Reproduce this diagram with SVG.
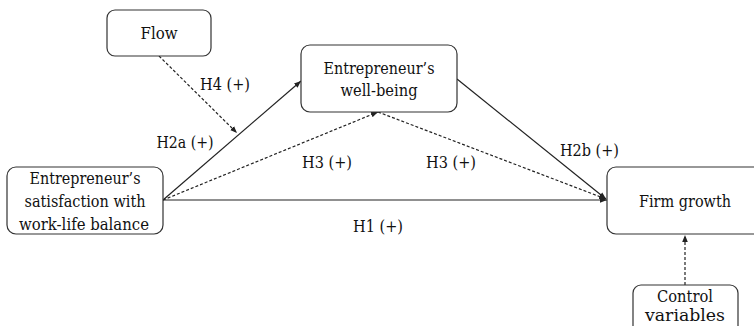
<svg xmlns="http://www.w3.org/2000/svg" width="754" height="326" viewBox="0 0 754 326">
<defs>
<marker id="arr" viewBox="0 0 10 10" refX="10" refY="5" markerWidth="7" markerHeight="7" orient="auto" markerUnits="userSpaceOnUse">
<path d="M0,1 L10,5 L0,9 z" fill="#222"/>
</marker>
<style>
.box{fill:#fff;stroke:#333;stroke-width:1.2}
.t{font-family:"DejaVu Serif",serif;font-size:16px;fill:#111;text-anchor:middle}
.solid{stroke:#222;stroke-width:1.2;fill:none}
.dash{stroke:#222;stroke-width:1.2;fill:none;stroke-dasharray:3,2}
</style>
</defs>
<rect width="754" height="326" fill="#fff"/>
<g id="connectors">
<line class="solid" x1="163" y1="200" x2="607" y2="200" marker-end="url(#arr)"/>
<line class="solid" x1="163" y1="200" x2="301" y2="81" marker-end="url(#arr)"/>
<line class="solid" x1="457" y1="79" x2="606" y2="199" marker-end="url(#arr)"/>
<line class="dash" x1="163" y1="200" x2="378" y2="112" marker-end="url(#arr)"/>
<line class="dash" x1="378" y1="112" x2="606" y2="199" marker-end="url(#arr)"/>
<line class="dash" x1="159" y1="56" x2="237" y2="133" marker-end="url(#arr)"/>
<line class="dash" x1="685" y1="285" x2="685" y2="235" marker-end="url(#arr)"/>
</g>
<g id="labels">
<text class="t" x="225" y="90" textLength="50" lengthAdjust="spacingAndGlyphs">H4 (+)</text>
<text class="t" x="185" y="148" textLength="57" lengthAdjust="spacingAndGlyphs">H2a (+)</text>
<text class="t" x="327" y="168" textLength="50" lengthAdjust="spacingAndGlyphs">H3 (+)</text>
<text class="t" x="451" y="168" textLength="50" lengthAdjust="spacingAndGlyphs">H3 (+)</text>
<text class="t" x="589.5" y="156" textLength="59" lengthAdjust="spacingAndGlyphs">H2b (+)</text>
<text class="t" x="378" y="232" textLength="50" lengthAdjust="spacingAndGlyphs">H1 (+)</text>
</g>
<g id="flow">
<rect class="box" x="107" y="10" width="104" height="46" rx="8"/>
<text class="t" x="159" y="39" textLength="37" lengthAdjust="spacingAndGlyphs">Flow</text>
</g>
<g id="wellbeing">
<rect class="box" x="301" y="45" width="156" height="67" rx="9"/>
<text class="t" x="379" y="74" textLength="111" lengthAdjust="spacingAndGlyphs">Entrepreneur’s</text>
<text class="t" x="379" y="96" textLength="77" lengthAdjust="spacingAndGlyphs">well-being</text>
</g>
<g id="satisfaction">
<rect class="box" x="7" y="167" width="156" height="67" rx="9"/>
<text class="t" x="85" y="184" textLength="111" lengthAdjust="spacingAndGlyphs">Entrepreneur’s</text>
<text class="t" x="85" y="207" textLength="121" lengthAdjust="spacingAndGlyphs">satisfaction with</text>
<text class="t" x="84" y="230" textLength="130" lengthAdjust="spacingAndGlyphs">work-life balance</text>
</g>
<g id="firmgrowth">
<rect class="box" x="607" y="167" width="158" height="67" rx="9"/>
<text class="t" x="685" y="207" textLength="92" lengthAdjust="spacingAndGlyphs">Firm growth</text>
</g>
<g id="control">
<rect class="box" x="633" y="285" width="105" height="50" rx="8"/>
<text class="t" x="685" y="302" textLength="56" lengthAdjust="spacingAndGlyphs">Control</text>
<text class="t" x="685" y="321" textLength="80" lengthAdjust="spacingAndGlyphs">variables</text>
</g>
</svg>
